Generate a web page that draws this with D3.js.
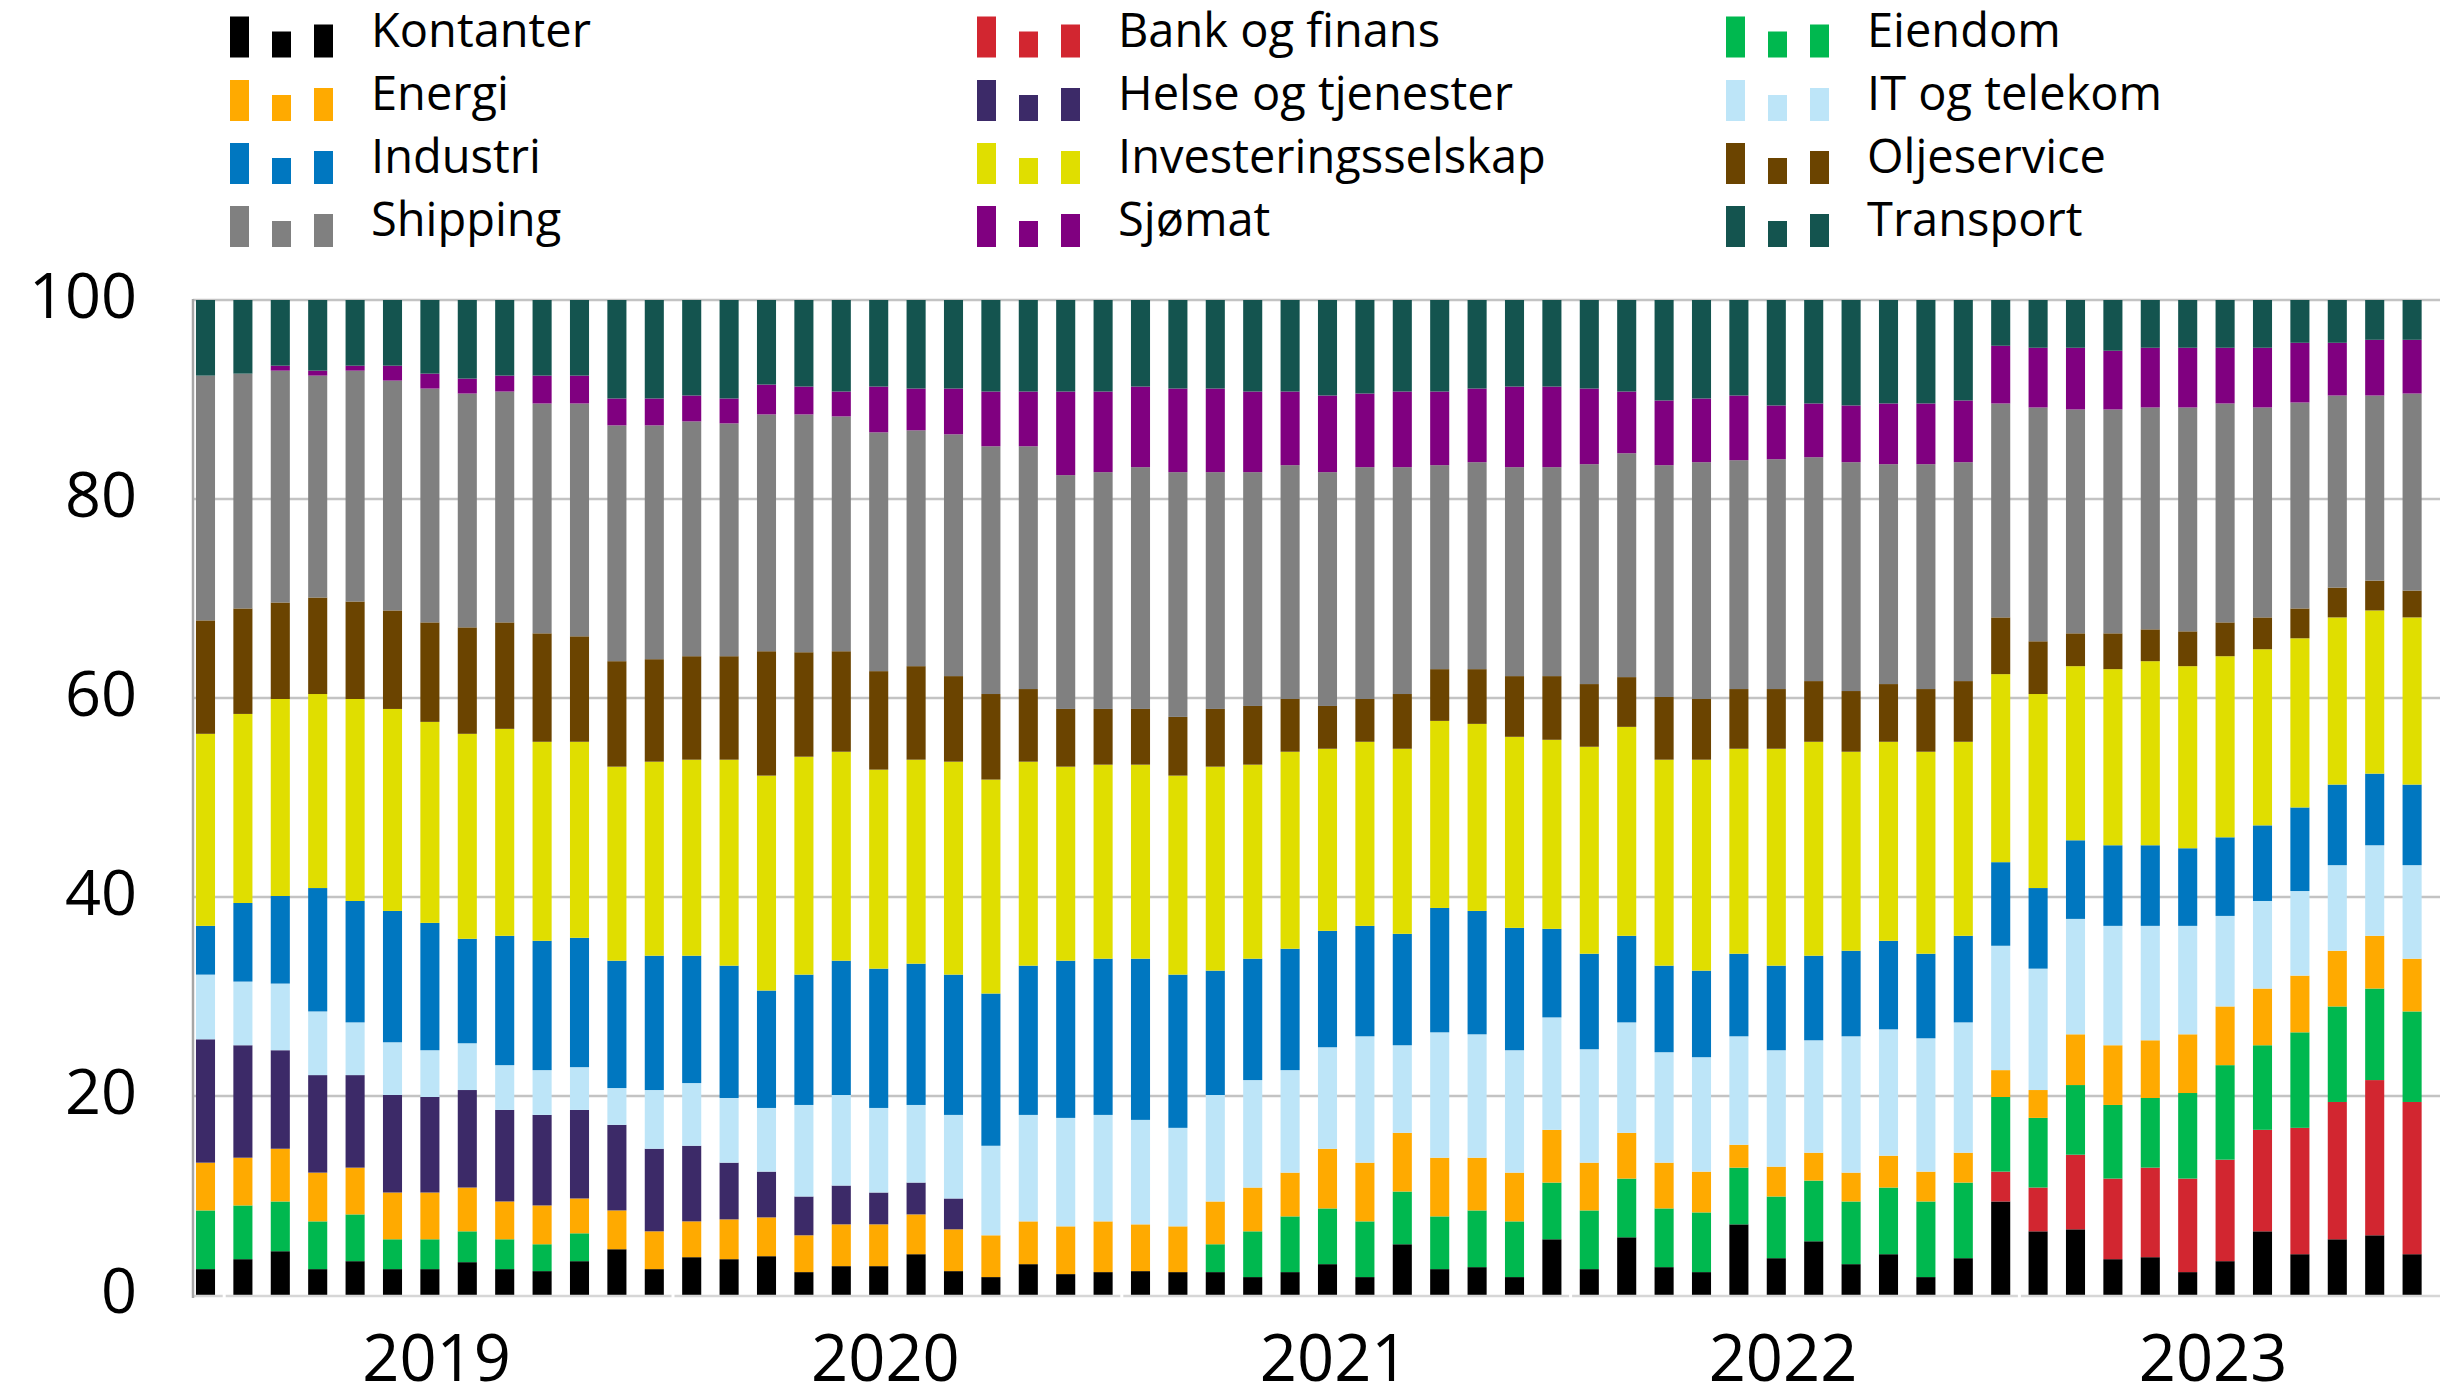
<!DOCTYPE html>
<html><head><meta charset="utf-8">
<script src="https://cdn.jsdelivr.net/npm/d3@7"></script>
<style>
html,body{margin:0;padding:0;background:#fff;}
svg{display:block;font-family:"Open Sans",sans-serif;}
</style></head>
<body>
<svg id="chart" width="2440" height="1387"></svg>
<script>
const months = ["2018-12","2019-01","2019-02","2019-03","2019-04","2019-05","2019-06","2019-07","2019-08","2019-09","2019-10","2019-11","2019-12",
"2020-01","2020-02","2020-03","2020-04","2020-05","2020-06","2020-07","2020-08","2020-09","2020-10","2020-11","2020-12",
"2021-01","2021-02","2021-03","2021-04","2021-05","2021-06","2021-07","2021-08","2021-09","2021-10","2021-11","2021-12",
"2022-01","2022-02","2022-03","2022-04","2022-05","2022-06","2022-07","2022-08","2022-09","2022-10","2022-11","2022-12",
"2023-01","2023-02","2023-03","2023-04","2023-05","2023-06","2023-07","2023-08","2023-09","2023-10","2023-11"];
const years = ["2019","2020","2021","2022","2023"];
const yTicks = [0,20,40,60,80,100];

const kontanter = [2.6,3.6,4.4,2.6,3.4,2.6,2.6,3.3,2.6,2.4,3.4,4.6,2.6,3.8,3.6,3.9,2.3,2.9,2.9,4.1,2.4,1.8,3.1,2.1,2.3,2.4,2.3,2.3,1.8,2.3,3.1,1.8,5.1,2.6,2.8,1.8,5.6,2.6,5.8,2.8,2.3,7.1,3.7,5.4,3.1,4.1,1.8,3.7,9.4,6.4,6.6,3.6,3.8,2.3,3.4,6.4,4.1,5.6,6.0,4.1];
const bank = [0,0,0,0,0,0,0,0,0,0,0,0,0,0,0,0,0,0,0,0,0,0,0,0,0,0,0,0,0,0,0,0,0,0,0,0,0,0,0,0,0,0,0,0,0,0,0,0,3.0,4.4,7.5,8.1,9.0,9.4,10.2,10.2,12.7,13.8,15.6,15.3];
const eiendom = [5.9,5.4,5.0,4.8,4.7,3.0,3.0,3.1,3.0,2.7,2.8,0,0,0,0,0,0,0,0,0,0,0,0,0,0,0,0,2.8,4.6,5.6,5.6,5.6,5.3,5.3,5.7,5.6,5.7,5.9,5.9,5.9,6.0,5.7,6.2,6.1,6.3,6.7,7.6,7.6,7.5,7.0,7.0,7.4,7.0,8.6,9.5,8.5,9.6,9.6,9.2,9.1];
const energi = [4.8,4.8,5.3,4.9,4.7,4.7,4.7,4.4,3.8,3.9,3.5,3.9,3.8,3.6,4.0,3.9,3.7,4.2,4.2,4.0,4.2,4.2,4.3,4.8,5.1,4.7,4.6,4.3,4.4,4.4,6.0,5.9,5.9,5.9,5.3,4.9,5.3,4.8,4.6,4.6,4.1,2.3,3.0,2.8,2.9,3.2,3.0,3.0,2.7,2.8,5.1,6.0,5.8,5.9,5.9,5.7,5.7,5.6,5.3,5.3];
const helse = [12.4,11.3,9.9,9.8,9.3,9.8,9.6,9.8,9.2,9.1,8.9,8.6,8.3,7.6,5.7,4.6,3.9,3.9,3.2,3.2,3.1,0,0,0,0,0,0,0,0,0,0,0,0,0,0,0,0,0,0,0,0,0,0,0,0,0,0,0,0,0,0,0,0,0,0,0,0,0,0,0];
const itTelekom = [6.5,6.4,6.7,6.4,5.3,5.3,4.7,4.7,4.5,4.5,4.3,3.7,5.9,6.3,6.5,6.4,9.2,9.1,8.5,7.8,8.4,9.0,10.7,10.9,10.7,10.5,9.9,10.7,10.8,10.3,10.2,12.7,8.8,12.6,12.4,12.3,11.3,11.4,11.1,11.1,11.5,10.9,11.7,11.3,13.7,12.7,13.4,13.1,12.5,12.2,11.6,12.0,11.5,10.9,9.1,8.8,8.5,8.6,9.1,9.4];
const industri = [4.9,7.9,8.8,12.4,12.2,13.2,12.8,10.5,13.0,13.0,13.0,12.8,13.5,12.8,13.3,11.8,13.1,13.5,14.0,14.2,14.1,15.3,15.0,15.8,15.7,16.2,15.4,12.5,12.2,12.2,11.7,11.1,11.2,12.5,12.4,12.3,8.9,9.6,8.7,8.7,8.7,8.3,8.5,8.5,8.6,8.9,8.5,8.7,8.4,8.1,7.9,8.1,8.1,7.8,7.9,7.6,8.4,8.1,7.2,8.1];
const invest = [19.3,19.0,19.8,19.5,20.3,20.3,20.2,20.6,20.8,20.0,19.7,19.5,19.5,19.7,20.7,21.6,21.9,21.0,20.0,20.5,21.4,21.5,20.5,19.5,19.5,19.5,20.0,20.5,19.5,19.8,18.3,18.5,18.6,18.8,18.8,19.2,19.0,20.8,21.0,20.7,21.2,20.6,21.8,21.5,20.0,20.0,20.3,19.5,18.9,19.5,17.5,17.7,18.5,18.3,18.2,17.7,17.0,16.8,16.4,16.8];
const olje = [11.4,10.6,9.7,9.7,9.8,9.9,10.0,10.7,10.7,10.9,10.6,10.6,10.3,10.4,10.4,12.5,10.5,10.1,9.9,9.4,8.6,8.6,7.3,5.8,5.6,5.6,5.9,5.8,5.9,5.3,4.3,4.3,5.5,5.2,5.5,6.1,6.4,6.3,5.0,6.3,6.1,6.0,6.0,6.1,6.1,5.8,6.3,6.1,5.7,5.3,3.3,3.6,3.2,3.5,3.4,3.2,3.0,3.0,3.0,2.7];
const shipping = [24.6,23.6,23.3,22.3,23.2,23.1,23.5,23.5,23.2,23.1,23.4,23.7,23.5,23.6,23.4,23.8,23.9,23.6,24.0,23.7,24.3,24.9,24.4,23.5,23.8,24.3,24.6,23.8,23.5,23.5,23.5,23.3,22.8,20.5,20.8,21.0,21.0,22.1,22.5,23.3,23.8,23.0,23.1,22.5,23.0,22.1,22.6,22.0,21.5,23.5,22.5,22.5,22.3,22.5,22.0,21.1,20.7,19.3,18.6,19.8];
const sjomat = [0,0,0.5,0.5,0.5,1.5,1.5,1.5,1.6,2.8,2.8,2.7,2.7,2.6,2.5,3.0,2.8,2.5,4.6,4.2,4.6,5.5,5.5,8.4,8.1,8.1,8.4,8.4,8.1,7.4,7.7,7.4,7.6,7.4,7.4,8.1,8.1,7.6,6.2,6.5,6.4,6.5,5.4,5.4,5.7,6.1,6.1,6.2,5.8,6.0,6.2,5.9,6.0,6.0,5.6,6.0,6.0,5.3,5.6,5.4];
const transport = [7.6,7.4,6.6,7.1,6.6,6.6,7.4,7.9,7.6,7.6,7.6,9.9,9.9,9.6,9.9,8.5,8.7,9.2,8.7,8.9,8.9,9.2,9.2,9.2,9.2,8.7,8.9,8.9,9.2,9.2,9.6,9.4,9.2,9.2,8.9,8.7,8.7,8.9,9.2,10.1,9.9,9.6,10.6,10.4,10.6,10.4,10.4,10.1,4.6,4.8,4.8,5.1,4.8,4.8,4.8,4.8,4.3,4.3,4.0,4.0];

const seriesNames = ["Kontanter","Bank og finans","Eiendom","Energi","Helse og tjenester","IT og telekom","Industri","Investeringsselskap","Oljeservice","Shipping","Sjømat","Transport"];
const seriesValues = [kontanter,bank,eiendom,energi,helse,itTelekom,industri,invest,olje,shipping,sjomat,transport];
const colors = ["#000000","#D22630","#00B84F","#FFAA00","#3C2A68","#BDE5F8","#0077C0","#E0DE00","#6B4400","#808080","#800080","#14544F"];

const rows = months.map((m,i)=>{const r={month:m}; seriesNames.forEach((n,k)=>r[n]=seriesValues[k][i]); return r;});

const svg = d3.select("#chart");
const plotLeft = 193, plotRight = 2440, yTop = 300, yBottom = 1295;
const step = 37.4;
const bandStart = 186.8;
const x = d3.scaleBand().domain(months).range([bandStart, bandStart + step*months.length]).paddingInner(0.49).paddingOuter(0.245);
const y = d3.scaleLinear().domain([0,100]).range([yBottom, yTop]);
const color = d3.scaleOrdinal().domain(seriesNames).range(colors);

// gridlines
svg.append("g").selectAll("line").data(yTicks.filter(d=>d>0)).join("line")
  .attr("x1", plotLeft).attr("x2", plotRight)
  .attr("y1", d=>y(d)).attr("y2", d=>y(d))
  .attr("stroke", "#c3c3c3").attr("stroke-width", 2.5);

// bars
const stack = d3.stack().keys(seriesNames)(rows);
svg.append("g").selectAll("g").data(stack).join("g")
  .attr("fill", d=>color(d.key))
  .selectAll("rect").data(d=>d).join("rect")
  .attr("x", d=>x(d.data.month))
  .attr("width", x.bandwidth())
  .attr("y", d=>y(d[1]))
  .attr("height", d=>Math.max(0, y(d[0]) - y(d[1])));

// x axis line
svg.append("line").attr("x1", plotLeft).attr("x2", plotRight).attr("y1", yBottom+1).attr("y2", yBottom+1)
  .attr("stroke", "#d6d6d6").attr("stroke-width", 2.5);
// year boundaries
const firstOfYear = months.filter(m=>m.endsWith("-01"));
svg.append("g").selectAll("line").data(firstOfYear).join("line")
  .attr("x1", d=>x(d) - (step - x.bandwidth())/2).attr("x2", d=>x(d) - (step - x.bandwidth())/2)
  .attr("y1", yBottom-1).attr("y2", yBottom+4)
  .attr("stroke", "#ffffff").attr("stroke-width", 3);

// y axis line
svg.append("line").attr("x1", plotLeft).attr("x2", plotLeft).attr("y1", yTop-1).attr("y2", yBottom+3)
  .attr("stroke", "#a6a6a6").attr("stroke-width", 2.5);

// y axis labels
const yAxis = d3.axisLeft(y).tickValues(yTicks).tickSize(0).tickPadding(56).tickFormat(d3.format("d"));
const yg = svg.append("g").attr("transform", `translate(${plotLeft},0)`).call(yAxis);
yg.select(".domain").remove();
yg.selectAll("text").attr("font-size", 63).attr("font-family", "'Open Sans', sans-serif").attr("fill", "#000").attr("dy", "0.27em");

// year labels
svg.append("g").selectAll("text").data(years).join("text")
  .attr("x", yr=>{
    const ms = months.filter(m=>m.startsWith(yr));
    const left = x(ms[0]) - (step - x.bandwidth())/2;
    const right = x(ms[ms.length-1]) + x.bandwidth() + (step - x.bandwidth())/2;
    return (left+right)/2 - 12;
  })
  .attr("y", 1381)
  .attr("text-anchor", "middle")
  .attr("font-size", 65)
  .attr("fill", "#000")
  .text(d=>d);

// legend
const legCols = [230, 977, 1726];
const legRows = [57.5, 121, 184, 247];
const iconH = [41, 26, 33];
const leg = svg.append("g").selectAll("g").data(seriesNames).join("g")
  .attr("transform", (d,k)=>`translate(${legCols[k%3]},${legRows[Math.floor(k/3)]})`);
leg.selectAll("rect").data(d=>iconH.map(h=>({h, name:d}))).join("rect")
  .attr("x", (d,i)=>i*42).attr("width", 19)
  .attr("y", d=>-d.h).attr("height", d=>d.h)
  .attr("fill", d=>color(d.name));
leg.append("text").attr("x", 141).attr("y", -11)
  .attr("font-size", 47).attr("fill", "#000").text(d=>d);
</script>
</body></html>
